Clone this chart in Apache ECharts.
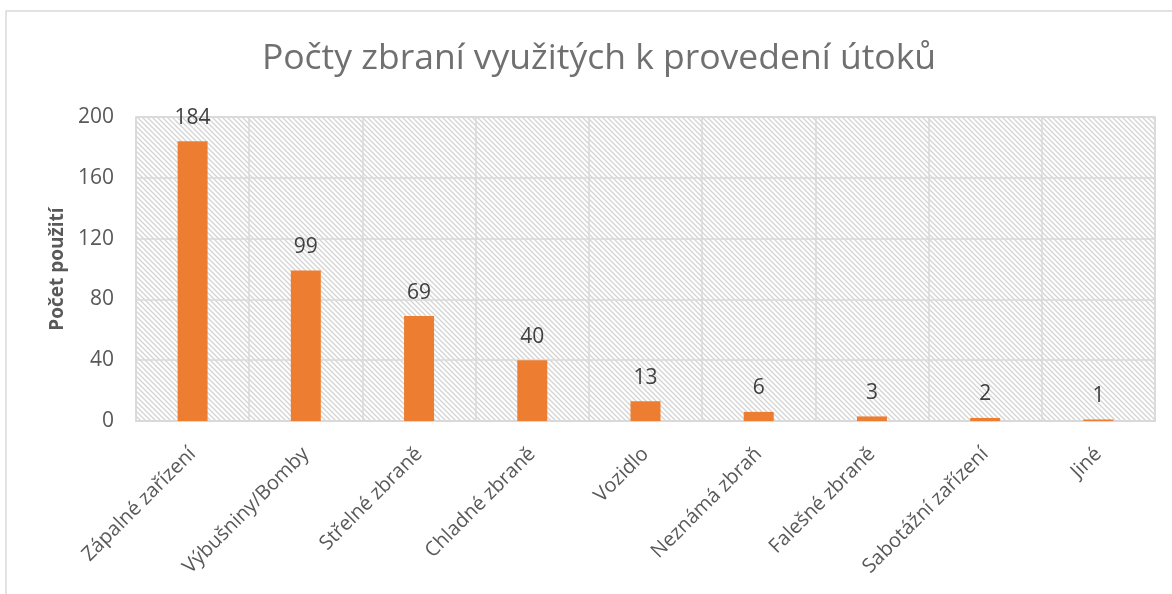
<!DOCTYPE html>
<html><head><meta charset="utf-8">
<script src="https://cdn.jsdelivr.net/npm/echarts@6/dist/echarts.min.js"></script>
<style>html,body{margin:0;padding:0;background:#fff;}#c{width:1172px;height:594px;}</style>
</head><body><div id="c"></div>
<script>
const categories = ['Zápalné zařízení','Výbušniny/Bomby','Střelné zbraně','Chladné zbraně','Vozidlo','Neznámá zbraň','Falešné zbraně','Sabotážní zařízení','Jiné'];
const values = [184, 99, 69, 40, 13, 6, 3, 2, 1];
const yTicks = {min: 0, max: 200, interval: 40};

const pc = document.createElement('canvas');
pc.width = 5; pc.height = 5;
const g = pc.getContext('2d');
g.fillStyle = '#ffffff'; g.fillRect(0,0,5,5);
g.strokeStyle = '#d4d4d4'; g.lineWidth = 1.3;
for (let o = -5; o <= 5; o += 5) { g.beginPath(); g.moveTo(o-1, -1); g.lineTo(o+6, 6); g.stroke(); }

const font = 'Open Sans';
const chart = echarts.init(document.getElementById('c'));
chart.setOption({
  animation: false,
  title: {text: 'Počty zbraní využitých k provedení útoků', left: 594, textAlign: 'center', top: 36,
    textStyle: {fontFamily: font, fontSize: 35.5, fontWeight: 'normal', color: '#707070'}},
  graphic: [{type: 'rect', shape: {x: 6, y: 11, width: 1300, height: 700}, style: {fill: 'none', stroke: '#d9d9d9', lineWidth: 1.5}, silent: true}],
  grid: {left: 136, right: 17, top: 117, bottom: 173, show: true, backgroundColor: {image: pc, repeat: 'repeat'}, borderColor: '#d9d9d9', borderWidth: 1.5},
  xAxis: {type: 'category', data: categories,
    axisLine: {lineStyle: {color: '#d9d9d9', width: 2}}, axisTick: {show: false},
    splitLine: {show: true, lineStyle: {color: '#d9d9d9', width: 1.5}},
    axisLabel: {rotate: 45, interval: 0, margin: 30, fontFamily: font, fontSize: 20, color: '#595959'}},
  yAxis: {type: 'value', min: yTicks.min, max: yTicks.max, interval: yTicks.interval,
    name: 'Počet použití', nameLocation: 'middle', nameGap: 69,
    nameTextStyle: {fontFamily: font, fontSize: 19, fontWeight: 'bold', color: '#595959'},
    axisLine: {show: false}, axisTick: {show: false},
    splitLine: {lineStyle: {color: '#d9d9d9', width: 1.5}},
    axisLabel: {margin: 22, fontFamily: font, fontSize: 21, color: '#595959'}},
  series: [{type: 'bar', data: values, barWidth: 30, itemStyle: {color: '#ED7D31'},
    label: {show: true, position: 'top', distance: 13, fontFamily: font, fontSize: 21, color: '#404040'}}]
});
</script></body></html>
